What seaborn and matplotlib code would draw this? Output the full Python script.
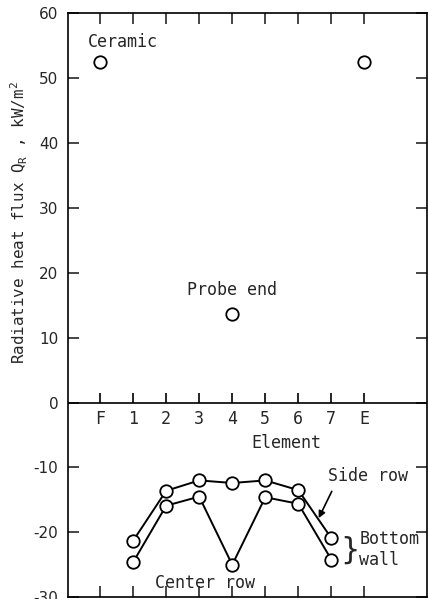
import matplotlib
matplotlib.use("Agg")
import matplotlib.pyplot as plt
import seaborn as sns
import pandas as pd

sns.set_theme(style="white")
plt.rcParams['font.family'] = ['DejaVu Sans Mono', 'DejaVu Sans']
plt.rcParams['mathtext.fontset'] = 'custom'
plt.rcParams['mathtext.rm'] = 'DejaVu Sans Mono'
plt.rcParams['mathtext.it'] = 'DejaVu Sans Mono'

# ---- data ----
categories = ["F", "1", "2", "3", "4", "5", "6", "7", "E"]
elements = [1, 2, 3, 4, 5, 6, 7]
side_row = [-21.3, -13.6, -12.0, -12.4, -12.0, -13.5, -20.9]
center_row = [-24.6, -15.9, -14.5, -25.0, -14.6, -15.6, -24.2]
single_x = [0, 4, 8]
single_y = [52.5, 13.6, 52.5]
y_ticks = [60, 50, 40, 30, 20, 10, 0, -10, -20, -30]

rows = pd.DataFrame({
    "x": elements * 2,
    "y": side_row + center_row,
    "row": ["Side"] * len(elements) + ["Center"] * len(elements),
})
singles = pd.DataFrame({"x": single_x, "y": single_y})

fig = plt.figure(figsize=(4.28, 5.99), dpi=100)
ax = fig.add_axes([0.159, 0.003, 0.839, 0.975])

sns.lineplot(data=rows, x="x", y="y", units="row", estimator=None,
             color="black", lw=1.4, marker="o", markersize=9,
             markerfacecolor="white", markeredgecolor="black",
             markeredgewidth=1.3, ax=ax, legend=False)
sns.scatterplot(data=singles, x="x", y="y", s=80, facecolor="white",
                edgecolor="black", linewidth=1.3, ax=ax, legend=False, zorder=3)

ax.set_xlim(-0.97, 9.9)
ax.set_ylim(-30, 60)

# spines
for s in ax.spines.values():
    s.set_color("black")
    s.set_linewidth(1.2)

# zero line with upward ticks
ax.axhline(0, color="black", lw=1.2)
ax.vlines(range(len(categories)), 0, 1.4, color="black", lw=1.2)

# x ticks on top and bottom (inward), no labels
ax.set_xticks(range(len(categories)))
ax.tick_params(axis="x", direction="in", length=8, width=1.2, top=True,
               bottom=True, labelbottom=False, labeltop=False)
for i, c in enumerate(categories):
    ax.text(i, -2.6, c, ha="center", va="center", fontsize=12)
ax.text(5.65, -6.2, "Element", ha="center", va="center", fontsize=12)

# y ticks
ax.set_yticks(y_ticks)
ax.set_yticklabels([str(v) for v in y_ticks], family="DejaVu Sans")
ax.tick_params(axis="y", direction="in", length=8, width=1.2, left=True,
               right=True, labelsize=11, pad=7)
ax.set_xlabel("")
ax.set_ylabel("Radiative heat flux Q$_\\mathrm{R}$ , kW/m$^2$", fontsize=11.4)
ax.yaxis.set_label_coords(-0.105, 0.641)

# annotations
ax.text(-0.37, 55.5, "Ceramic", ha="left", va="center", fontsize=12)
ax.text(4, 17.3, "Probe end", ha="center", va="center", fontsize=12)
ax.text(6.9, -11.3, "Side row", ha="left", va="center", fontsize=12)
ax.annotate("", xy=(6.58, -18.2), xytext=(7.05, -13.3),
            arrowprops=dict(arrowstyle="-|>", color="black", lw=1.2,
                            mutation_scale=10))
ax.text(7.55, -22.7, "}", ha="center", va="center", fontsize=22,
        family="DejaVu Sans")
ax.text(7.85, -21.0, "Bottom", ha="left", va="center", fontsize=12)
ax.text(7.85, -24.2, "wall", ha="left", va="center", fontsize=12)
ax.text(3.17, -27.8, "Center row", ha="center", va="center", fontsize=12)

fig.savefig("out.png", dpi=100)
